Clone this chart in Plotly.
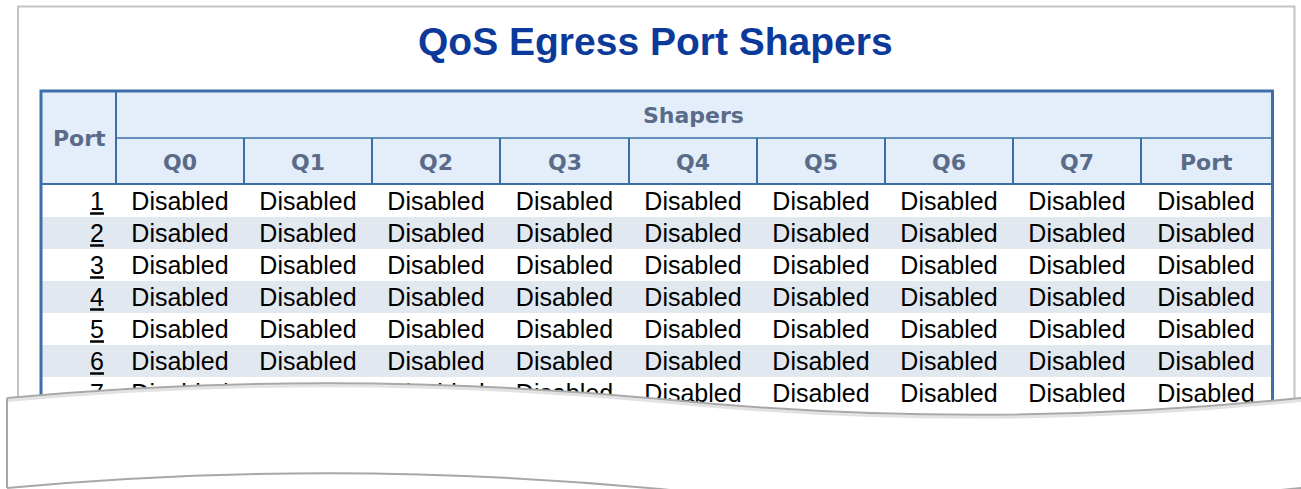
import plotly.graph_objects as go

# ---------------- data ----------------
title_text = "QoS Egress Port Shapers"
group_header = "Shapers"
port_header = "Port"
shaper_columns = ["Q0", "Q1", "Q2", "Q3", "Q4", "Q5", "Q6", "Q7", "Port"]
ports = [1, 2, 3, 4, 5, 6, 7]
shaper_values = [
    ["Disabled", "Disabled", "Disabled", "Disabled", "Disabled", "Disabled", "Disabled", "Disabled", "Disabled"],
    ["Disabled", "Disabled", "Disabled", "Disabled", "Disabled", "Disabled", "Disabled", "Disabled", "Disabled"],
    ["Disabled", "Disabled", "Disabled", "Disabled", "Disabled", "Disabled", "Disabled", "Disabled", "Disabled"],
    ["Disabled", "Disabled", "Disabled", "Disabled", "Disabled", "Disabled", "Disabled", "Disabled", "Disabled"],
    ["Disabled", "Disabled", "Disabled", "Disabled", "Disabled", "Disabled", "Disabled", "Disabled", "Disabled"],
    ["Disabled", "Disabled", "Disabled", "Disabled", "Disabled", "Disabled", "Disabled", "Disabled", "Disabled"],
    ["Disabled", "Disabled", "Disabled", "Disabled", "Disabled", "Disabled", "Disabled", "Disabled", "Disabled"],
]

# ---------------- layout geometry (pixels) ----------------
W, H = 1301, 489
FRAME_L, FRAME_R, FRAME_T = 18, 1294.5, 6.5
TBL_L, TBL_R, TBL_T = 41, 1272.5, 91
HDR1_B, HDR2_B = 138, 184
ROW_TOP, ROW_H = 185, 32
TEXT_DY = 3
col_edges = [116, 244, 372, 500, 629, 757, 885, 1013, 1141, 1271]
col_centers = [(a + b) / 2 for a, b in zip(col_edges[:-1], col_edges[1:])]
row_centers = [ROW_TOP + ROW_H * i + ROW_H / 2 for i in range(len(ports))]

BORDER = "#3d6ea7"
HDR_BG = "#e4eefb"
HDR_TXT = "#5a6b8a"
STRIPE = "#e2e8f0"
TITLE_C = "#0b3a9b"
FRAME_C = "#c4c4c4"
TEAR_C = "#a8a8a8"

fig = go.Figure()

# body cells
bx, by, bt = [], [], []
for r, row in enumerate(shaper_values):
    for c, v in enumerate(row):
        bx.append(col_centers[c])
        by.append(row_centers[r] + TEXT_DY)
        bt.append(v)
fig.add_trace(go.Scatter(
    x=bx, y=by, text=bt, mode="text", textposition="middle center",
    textfont=dict(family="Liberation Sans", size=25, color="#000000"),
    hoverinfo="skip", showlegend=False))

# port numbers
fig.add_trace(go.Scatter(
    x=[97] * len(ports), y=[yc + TEXT_DY for yc in row_centers],
    text=[f"<u>{p}</u>" for p in ports],
    mode="text", textposition="middle center",
    textfont=dict(family="Liberation Sans", size=25, color="#000000"),
    hoverinfo="skip", showlegend=False))

shapes = []
# outer page frame
shapes.append(dict(type="rect", x0=FRAME_L, x1=FRAME_R, y0=FRAME_T, y1=700,
                   line=dict(color=FRAME_C, width=2), fillcolor="rgba(0,0,0,0)", layer="below"))
# header background
shapes.append(dict(type="rect", x0=TBL_L, x1=TBL_R, y0=TBL_T, y1=HDR2_B,
                   line=dict(width=0), fillcolor=HDR_BG, layer="below"))
# zebra stripes
for i in range(len(ports)):
    if i % 2 == 1:
        shapes.append(dict(type="rect", x0=TBL_L, x1=TBL_R,
                           y0=ROW_TOP + ROW_H * i, y1=ROW_TOP + ROW_H * (i + 1),
                           line=dict(width=0), fillcolor=STRIPE, layer="below"))
# header lines
shapes.append(dict(type="line", x0=col_edges[0], x1=TBL_R, y0=HDR1_B, y1=HDR1_B,
                   line=dict(color=BORDER, width=1.5), layer="below"))
shapes.append(dict(type="line", x0=TBL_L, x1=TBL_R, y0=HDR2_B, y1=HDR2_B,
                   line=dict(color=BORDER, width=2), layer="below"))
shapes.append(dict(type="line", x0=col_edges[0], x1=col_edges[0], y0=TBL_T, y1=HDR2_B,
                   line=dict(color=BORDER, width=2), layer="below"))
for xe in col_edges[1:-1]:
    shapes.append(dict(type="line", x0=xe, x1=xe, y0=HDR1_B, y1=HDR2_B,
                       line=dict(color=BORDER, width=2), layer="below"))
# table outer border
shapes.append(dict(type="rect", x0=TBL_L, x1=TBL_R, y0=TBL_T, y1=700,
                   line=dict(color=BORDER, width=3), fillcolor="rgba(0,0,0,0)", layer="below"))

# torn paper effect
top_curve = "M 7,398 Q 333,368 660,399 Q 980,431 1301,398 L 1320,396"
fig_fill = top_curve + " L 1320,520 L 7,520 Z"
shapes.append(dict(type="path", path=fig_fill, fillcolor="#ffffff",
                   line=dict(width=0), layer="above"))
shapes.append(dict(type="path", path="M 7,400.5 Q 333,370.5 660,401.5 Q 980,433.5 1301,400.5 L 1320,398.5",
                   line=dict(color="#e2e2e2", width=3), layer="above"))
shapes.append(dict(type="path", path=top_curve,
                   line=dict(color=TEAR_C, width=2), layer="above"))
shapes.append(dict(type="line", x0=7, x1=7, y0=398, y1=488,
                   line=dict(color=TEAR_C, width=2), layer="above"))
shapes.append(dict(type="path", path="M 7,488 Q 333,458 660,489 Q 980,521 1301,488 L 1320,486",
                   line=dict(color=TEAR_C, width=2), layer="above"))

annotations = [
    dict(x=655, y=41, text=title_text, showarrow=False, xanchor="center", yanchor="middle",
         font=dict(family="Liberation Sans", size=39, color=TITLE_C, weight="bold")),
    dict(x=(TBL_L + col_edges[0]) / 2 + 1, y=(TBL_T + HDR2_B) / 2 + 1, text=port_header,
         showarrow=False, xanchor="center", yanchor="middle",
         font=dict(family="DejaVu Sans", size=22, color=HDR_TXT, weight="bold")),
    dict(x=(col_edges[0] + col_edges[-1]) / 2, y=(TBL_T + HDR1_B) / 2 + 1, text=group_header,
         showarrow=False, xanchor="center", yanchor="middle",
         font=dict(family="DejaVu Sans", size=22, color=HDR_TXT, weight="bold")),
]
for cx, name in zip(col_centers, shaper_columns):
    annotations.append(dict(x=cx, y=(HDR1_B + HDR2_B) / 2 + 1, text=name, showarrow=False,
                            xanchor="center", yanchor="middle",
                            font=dict(family="DejaVu Sans", size=22, color=HDR_TXT, weight="bold")))

fig.update_layout(
    width=W, height=H, margin=dict(l=0, r=0, t=0, b=0),
    paper_bgcolor="#ffffff", plot_bgcolor="#ffffff",
    xaxis=dict(range=[0, W], visible=False, fixedrange=True),
    yaxis=dict(range=[H, 0], visible=False, fixedrange=True),
    shapes=shapes, annotations=annotations, showlegend=False,
)

fig.write_html("out.html", config={"displayModeBar": False},
               post_script="document.body.style.margin='0';document.body.style.overflow='hidden';")
